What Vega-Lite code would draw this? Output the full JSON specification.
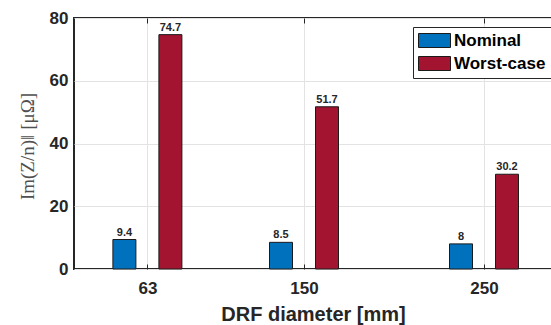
{
  "$schema": "https://vega.github.io/schema/vega-lite/v6.json",
  "autosize": "none",
  "width": 478,
  "height": 251,
  "padding": {"left": 74, "top": 18, "right": 0, "bottom": 56},
  "background": "white",
  "config": {
    "view": {"stroke": "#262626", "strokeWidth": 2},
    "font": "Liberation Sans",
    "axis": {
      "domain": false,
      "ticks": false,
      "gridColor": "#e3e3e3",
      "gridWidth": 1,
      "labelFont": "Liberation Sans",
      "labelFontWeight": "bold",
      "labelFontSize": 17,
      "labelColor": "#262626",
      "titleColor": "#262626"
    }
  },
  "resolve": {"axis": {"x": "independent"}},
  "data": {
    "values": [
      {"diameter": 63, "series": "Nominal", "value": 9.4},
      {"diameter": 150, "series": "Nominal", "value": 8.5},
      {"diameter": 250, "series": "Nominal", "value": 8},
      {"diameter": 63, "series": "Worst-case", "value": 74.7},
      {"diameter": 150, "series": "Worst-case", "value": 51.7},
      {"diameter": 250, "series": "Worst-case", "value": 30.2}
    ]
  },
  "encoding": {
    "y": {
      "field": "value",
      "type": "quantitative",
      "scale": {"domain": [0, 80], "nice": false},
      "axis": {
        "values": [0, 20, 40, 60, 80],
        "labelPadding": 6,
        "title": "Im(Z/n)ǁ [μΩ]",
        "titleFont": "Liberation Serif",
        "titleFontWeight": "normal",
        "titleFontSize": 19,
        "titleColor": "#505050",
        "titleAngle": -90,
        "titleX": -47,
        "titleY": 128,
        "titleBaseline": "middle",
        "titleAlign": "center"
      }
    }
  },
  "layer": [
    {
      "transform": [{"filter": "datum.series == 'Nominal'"}],
      "mark": {"type": "bar", "width": 23, "xOffset": -23, "stroke": "#1a1a1a", "strokeWidth": 1},
      "encoding": {
        "x": {
          "field": "diameter",
          "type": "quantitative",
          "scale": {"domain": [25, 285], "nice": false, "zero": false},
          "axis": {
            "orient": "bottom",
            "values": [63, 150, 250],
            "ticks": true,
            "tickSize": -5,
            "tickColor": "#262626",
            "tickWidth": 1,
            "labelPadding": 16,
            "title": "DRF diameter [mm]",
            "titleFont": "Liberation Sans",
            "titleFontWeight": "bold",
            "titleFontSize": 20,
            "titlePadding": 8
          }
        },
        "color": {
          "field": "series",
          "type": "nominal",
          "scale": {"domain": ["Nominal", "Worst-case"], "range": ["#0072BD", "#A2142F"]},
          "legend": {
            "title": null,
            "orient": "none",
            "legendX": 339,
            "legendY": 9,
            "padding": 5,
            "strokeColor": "#262626",
            "fillColor": "white",
            "symbolType": "M-1,-0.875H3V0.875H-1Z",
            "symbolSize": 256,
            "symbolStrokeColor": "#1a1a1a",
            "symbolStrokeWidth": 1,
            "symbolOpacity": 1,
            "labelFont": "Liberation Sans",
            "labelFontWeight": "bold",
            "labelFontSize": 17,
            "labelColor": "#000000",
            "labelOffset": 19,
            "rowPadding": 4
          }
        }
      }
    },
    {
      "transform": [{"filter": "datum.series == 'Worst-case'"}],
      "mark": {"type": "bar", "width": 23, "xOffset": 23, "stroke": "#1a1a1a", "strokeWidth": 1},
      "encoding": {
        "x": {"field": "diameter", "type": "quantitative", "axis": null},
        "color": {"field": "series", "type": "nominal"}
      }
    },
    {
      "transform": [{"filter": "datum.series == 'Nominal'"}],
      "mark": {"type": "text", "xOffset": -23, "dy": -2, "baseline": "bottom", "fontSize": 11, "fontWeight": "bold", "color": "#262626"},
      "encoding": {
        "x": {"field": "diameter", "type": "quantitative", "axis": null},
        "text": {"field": "value", "type": "quantitative"}
      }
    },
    {
      "transform": [{"filter": "datum.series == 'Worst-case'"}],
      "mark": {"type": "text", "xOffset": 23, "dy": -2, "baseline": "bottom", "fontSize": 11, "fontWeight": "bold", "color": "#262626"},
      "encoding": {
        "x": {
          "field": "diameter",
          "type": "quantitative",
          "axis": {
            "orient": "top",
            "values": [63, 150, 250],
            "grid": false,
            "labels": false,
            "ticks": true,
            "tickSize": -5,
            "tickColor": "#262626",
            "tickWidth": 1,
            "title": null
          }
        },
        "text": {"field": "value", "type": "quantitative"}
      }
    }
  ]
}
